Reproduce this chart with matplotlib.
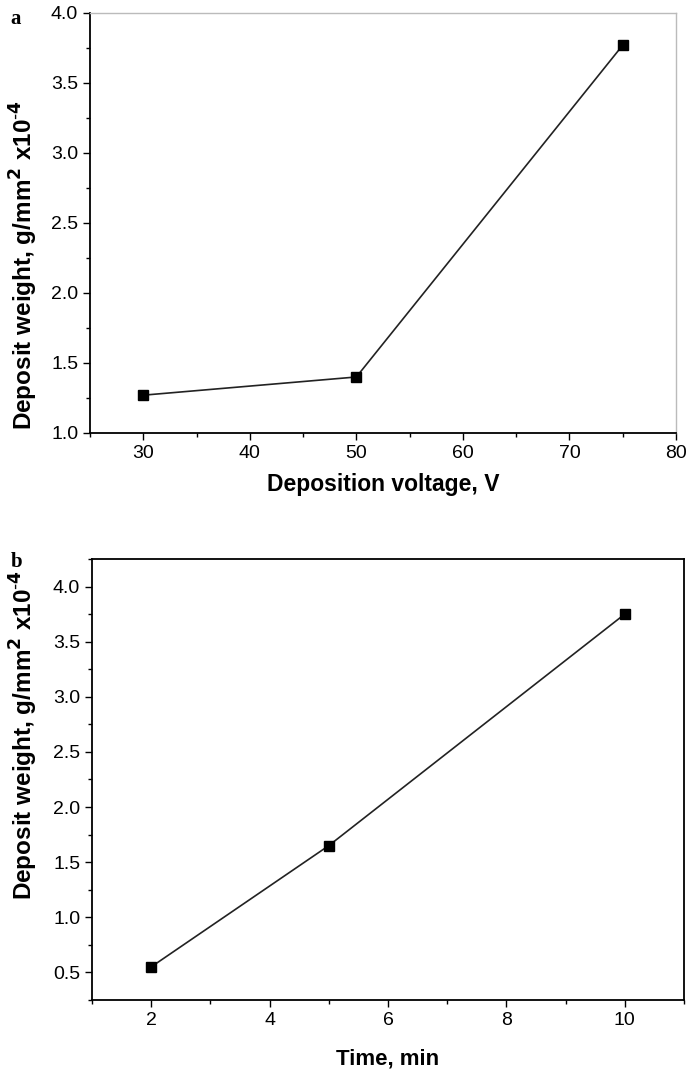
import matplotlib
matplotlib.use("Agg")
import matplotlib.pyplot as plt
from matplotlib.ticker import MultipleLocator

plt.rcParams['font.family'] = ['Liberation Sans', 'DejaVu Sans']
plt.rcParams['axes.unicode_minus'] = False

# panel a: deposit weight vs voltage
voltage = [30, 50, 75]
weight_a = [1.27, 1.40, 3.77]

# panel b: deposit weight vs time
time_min = [2, 5, 10]
weight_b = [0.55, 1.65, 3.75]

ylabel = "Deposit weight, g/mm$^{\\mathbf{2}}$ x10$^{\\mathbf{\\text{-}4}}$"

fig = plt.figure(figsize=(6.86, 10.72), dpi=100)
ax1 = fig.add_axes([0.1312, 0.5961, 0.8542, 0.3918])
ax2 = fig.add_axes([0.1341, 0.0672, 0.8630, 0.4114])


def style_axes(ax, light_frame):
    ax.tick_params(which='both', direction='out', top=False, right=False, labelsize=14)
    ax.tick_params(which='major', length=5, width=1.0)
    ax.tick_params(which='minor', length=3, width=1.0)
    for side in ['left', 'bottom']:
        ax.spines[side].set_linewidth(1.3)
    for side in ['top', 'right']:
        if light_frame:
            ax.spines[side].set_color('#bbbbbb')
            ax.spines[side].set_linewidth(1.0)
        else:
            ax.spines[side].set_linewidth(1.3)


ax1.plot(voltage, weight_a, color='#222222', lw=1.2, marker='s', ms=6.5, mfc='black', mec='black')
ax1.set_xlim(25, 80)
ax1.set_ylim(1.0, 4.0)
ax1.xaxis.set_major_locator(MultipleLocator(10))
ax1.xaxis.set_minor_locator(MultipleLocator(5))
ax1.yaxis.set_major_locator(MultipleLocator(0.5))
ax1.yaxis.set_minor_locator(MultipleLocator(0.25))
ax1.set_xlabel("Deposition voltage, V", fontsize=16.5, fontweight='bold', labelpad=8)
ax1.set_ylabel(ylabel, fontsize=17.5, fontweight='bold')
ax1.yaxis.set_label_coords(-0.086, 0.40)
style_axes(ax1, True)

ax2.plot(time_min, weight_b, color='#222222', lw=1.2, marker='s', ms=6.5, mfc='black', mec='black')
ax2.set_xlim(1, 11)
ax2.set_ylim(0.25, 4.25)
ax2.xaxis.set_minor_locator(MultipleLocator(1))
ax2.set_xticks([2, 4, 6, 8, 10])
ax2.yaxis.set_minor_locator(MultipleLocator(0.25))
ax2.set_yticks([0.5, 1.0, 1.5, 2.0, 2.5, 3.0, 3.5, 4.0])
ax2.set_xlabel("Time, min", fontsize=16, fontweight='bold', labelpad=14)
ax2.set_ylabel(ylabel, fontsize=17.5, fontweight='bold')
ax2.yaxis.set_label_coords(-0.088, 0.6)
style_axes(ax2, False)

fig.text(0.015, 0.982, "a", fontsize=15, fontweight='bold', family='Liberation Serif', va='center')
fig.text(0.015, 0.476, "b", fontsize=15, fontweight='bold', family='Liberation Serif', va='center')

fig.savefig("out.png", dpi=100)
